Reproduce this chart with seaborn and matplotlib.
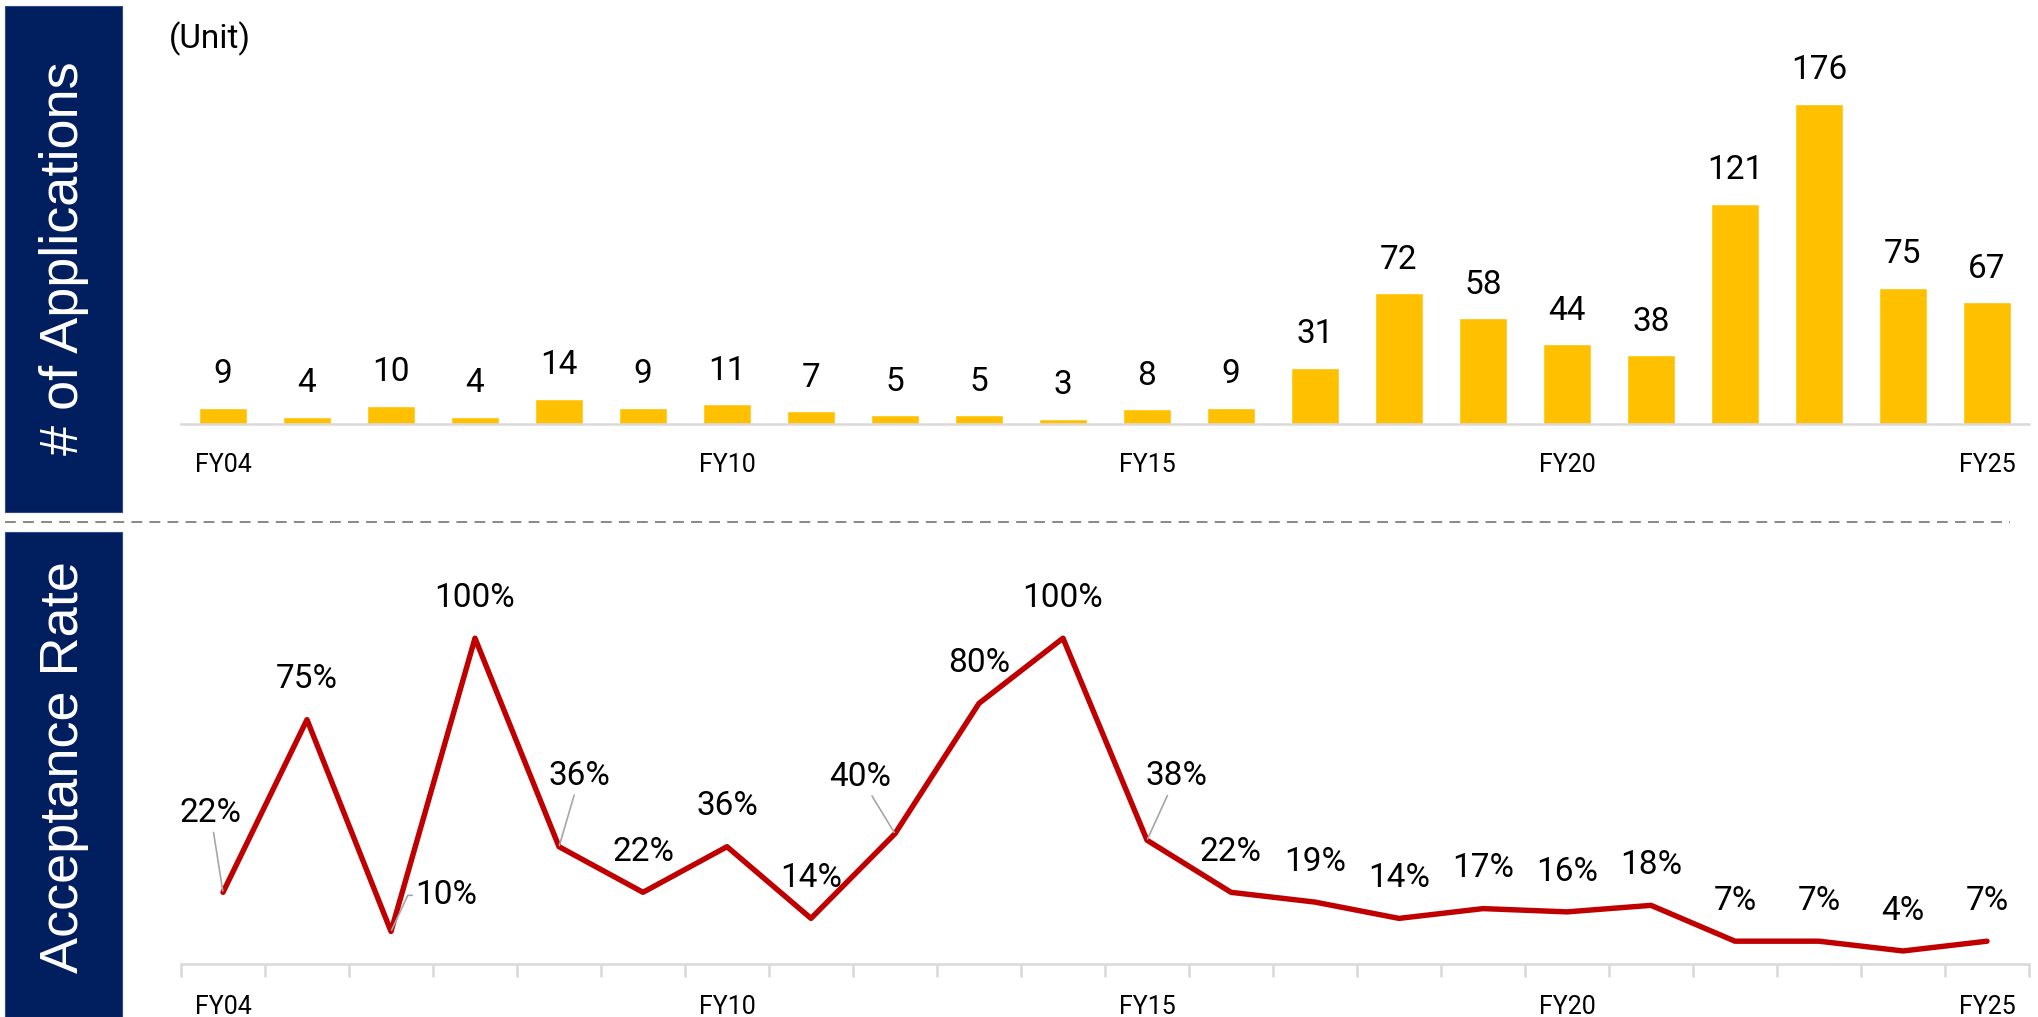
import matplotlib
matplotlib.use("Agg")
import matplotlib.pyplot as plt
from matplotlib.patches import Rectangle
from matplotlib.lines import Line2D
import seaborn as sns
import pandas as pd

# data
fiscal_years = ["FY04", "FY05", "FY06", "FY07", "FY08", "FY09", "FY10", "FY11",
                "FY12", "FY13", "FY14", "FY15", "FY16", "FY17", "FY18", "FY19",
                "FY20", "FY21", "FY22", "FY23", "FY24", "FY25"]
applications = [9, 4, 10, 4, 14, 9, 11, 7, 5, 5, 3, 8, 9, 31, 72, 58, 44, 38,
                121, 176, 75, 67]
acceptance_rate = [22, 75, 10, 100, 36, 22, 36, 14, 40, 80, 100, 38, 22, 19,
                   14, 17, 16, 18, 7, 7, 4, 7]
shown_ticks = ["FY04", "FY10", "FY15", "FY20", "FY25"]

sns.set_theme(style="white")
plt.rcParams["font.family"] = ["Roboto", "DejaVu Sans"]

NAVY = "#011E5E"
GOLD = "#FFC000"
RED = "#C00000"
LIGHT = "#D9D9D9"
LEADER = "#A6A6A6"

df = pd.DataFrame({"fy": fiscal_years, "apps": applications,
                   "rate": acceptance_rate})

W, H = 2038, 1017
fig = plt.figure(figsize=(W / 100, H / 100), dpi=100)

# side header boxes
for y0, y1, yc, label in [(6, 512, 258, "# of Applications"),
                          (532, 1017, 767, "Acceptance Rate")]:
    fig.patches.append(Rectangle((5 / W, 1 - y1 / H), 117 / W, (y1 - y0) / H,
                                 transform=fig.transFigure, facecolor=NAVY,
                                 edgecolor="#2F4A8A", linewidth=0.8))
    fig.text(64 / W, 1 - yc / H, label,
             rotation=90, color="white", fontsize=39, ha="center", va="center",
             family=["Liberation Sans", "DejaVu Sans"])

# dashed separator
fig.add_artist(Line2D([5 / W, 2010 / W], [1 - 522 / H, 1 - 522 / H],
                      transform=fig.transFigure, color="#7F7F7F",
                      linewidth=1.3, linestyle=(0, (6, 4))))

fig.text(169 / W, 1 - 39 / H, "(Unit)", fontsize=24, ha="left", va="center",
         color="black")

# ---- top: applications
ax1 = fig.add_axes([181 / W, 1 - 424 / H, (2029 - 181) / W, (424 - 20) / H])
sns.barplot(data=df, x="fy", y="apps", color=GOLD, saturation=1, width=0.56,
            ax=ax1)
ax1.set_xlim(-0.5, 21.5)
ax1.set_ylim(0, 222)
for i, v in enumerate(applications):
    ax1.annotate(str(v), (i, v), xytext=(0, 24), textcoords="offset points",
                 ha="center", va="center", fontsize=24, color="black")

# ---- bottom: acceptance rate
ax2 = fig.add_axes([181 / W, 1 - 964 / H, (2029 - 181) / W, (964 - 560) / H])
sns.lineplot(data=df, x="fy", y="rate", color=RED, linewidth=3.9, sort=False,
             ax=ax2)
ax2.set_xlim(-0.5, 21.5)
ax2.set_ylim(0, 124)

special = {0: (-9, 57), 2: (40, 26), 4: (15, 51), 8: (-25, 41), 11: (21, 46)}
for i, v in enumerate(acceptance_rate):
    off = special.get(i, (0, 29))
    props = None
    if i == 2:
        props = dict(arrowstyle="-", color=LEADER, lw=1.2, shrinkA=0, shrinkB=1,
                     connectionstyle="angle,angleA=0,angleB=65,rad=0")
    elif i in special:
        props = dict(arrowstyle="-", color=LEADER, lw=1.2, shrinkA=0, shrinkB=1)
    ax2.annotate(f"{v}%", (i, v), xytext=off, textcoords="offset points",
                 ha="center", va="center", fontsize=24, color="black",
                 arrowprops=props)

for ax, pad in ((ax1, 21), (ax2, 22)):
    ax.set_xlabel("")
    ax.set_ylabel("")
    ax.set_yticks([])
    for side in ("top", "left", "right"):
        ax.spines[side].set_visible(False)
    ax.spines["bottom"].set_color(LIGHT)
    ax.spines["bottom"].set_linewidth(1.8)
    ax.patch.set_alpha(0)
    pos = [fiscal_years.index(t) for t in shown_ticks]
    ax.set_xticks(pos)
    ax.set_xticklabels(shown_ticks, fontsize=18, color="black")
    ax.tick_params(axis="x", which="major", length=0, pad=pad)

ax2.set_xticks([i - 0.5 for i in range(len(fiscal_years) + 1)], minor=True)
ax2.tick_params(axis="x", which="minor", direction="out", length=9,
                width=1.8, color=LIGHT, bottom=True)

fig.savefig("out.png", dpi=100)
